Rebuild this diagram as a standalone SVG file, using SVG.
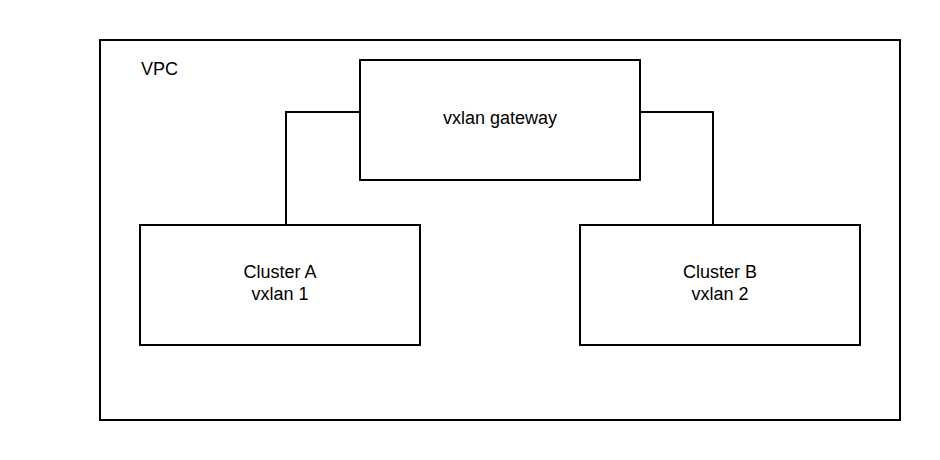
<svg xmlns="http://www.w3.org/2000/svg" width="940" height="460" viewBox="0 0 940 460">
<style>
.box{fill:#fff;stroke:#000;stroke-width:2}
.edge{fill:none;stroke:#000;stroke-width:2}
text{font-family:"Liberation Sans",Arial,sans-serif;font-size:18px;fill:#000}
.c{text-anchor:middle}
</style>
<rect width="940" height="460" fill="#fff"/>
<g id="vpc">
<rect class="box" x="100" y="40" width="800" height="380"/>
<text x="141" y="75">VPC</text>
</g>
<g id="connectors">
<polyline class="edge" points="360,112 286,112 286,225"/>
<polyline class="edge" points="640,112 713,112 713,225"/>
</g>
<g id="gateway">
<rect class="box" x="360" y="60" width="280" height="120"/>
<text class="c" x="500" y="124">vxlan gateway</text>
</g>
<g id="clusterA">
<rect class="box" x="140" y="225" width="280" height="120"/>
<text class="c" x="280" y="278">Cluster A</text>
<text class="c" x="280" y="300">vxlan 1</text>
</g>
<g id="clusterB">
<rect class="box" x="580" y="225" width="280" height="120"/>
<text class="c" x="720" y="278">Cluster B</text>
<text class="c" x="720" y="300">vxlan 2</text>
</g>
</svg>
